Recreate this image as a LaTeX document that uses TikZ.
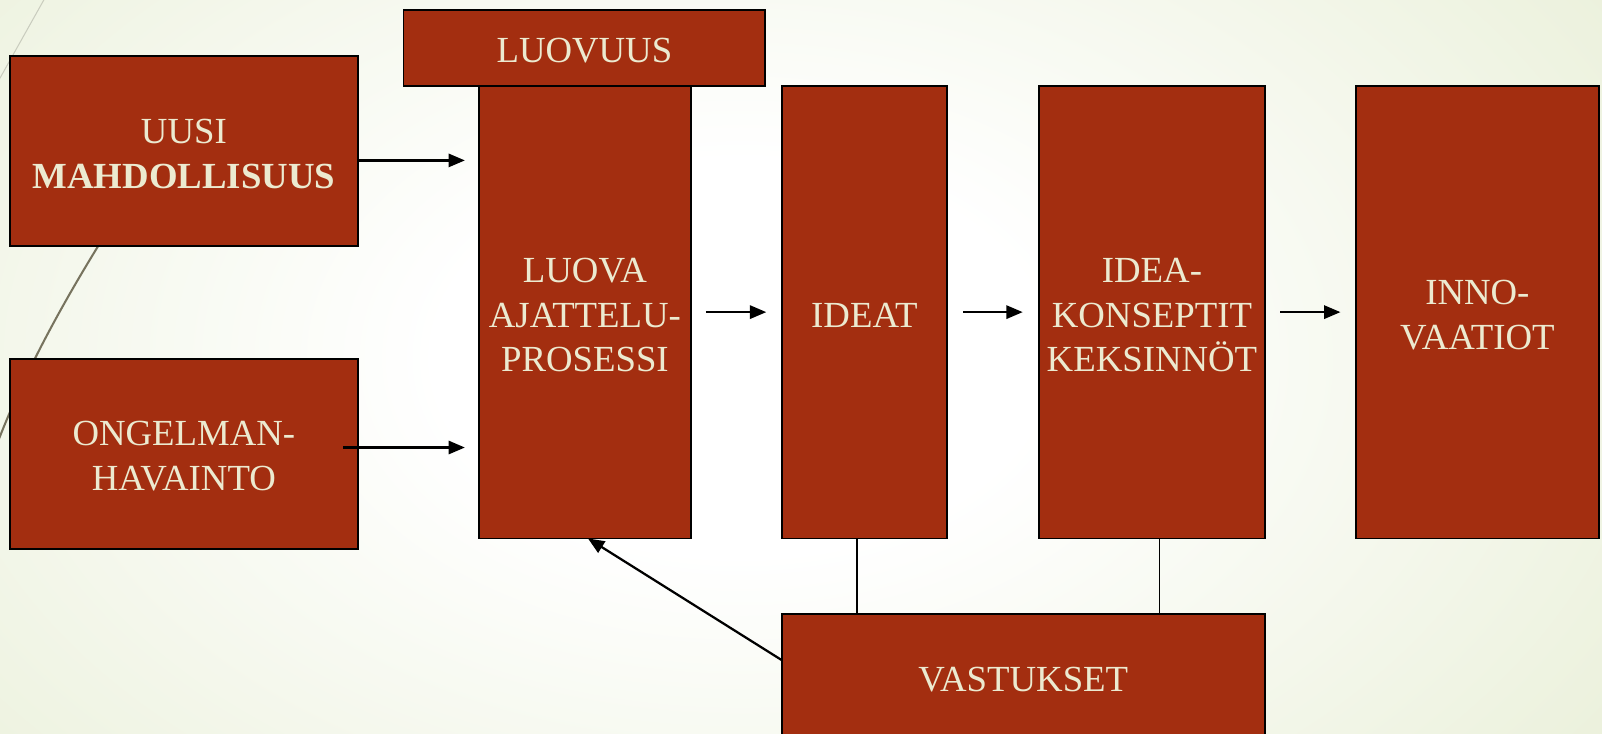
\documentclass[tikz,border=0pt]{standalone}
\usepackage{fontspec}
\setmainfont{Liberation Serif}
\usetikzlibrary{arrows.meta}
\definecolor{boxred}{HTML}{A32E10}
\definecolor{cream}{HTML}{ECEAD0}
\definecolor{bggreen}{HTML}{DFE8C6}
\definecolor{curvecol}{HTML}{77735E}
\definecolor{faintline}{HTML}{C9CCBE}
\pgfdeclareradialshading{bgshade}{\pgfpoint{0bp}{0bp}}{color(0bp)=(white); color(8bp)=(white); color(40bp)=(bggreen); color(50bp)=(bggreen)}
\newcommand\tstrut{\rule{0pt}{29.5pt}}
\begin{document}
\begin{tikzpicture}[x=1pt,y=-1pt,
  box/.style={draw=black, line width=1.8pt, fill=boxred, text=cream, align=center,
    anchor=north west, inner sep=0pt, outer sep=0pt, font=\fontsize{36}{44}\selectfont},
  arr/.style={line width=2.2pt, -{Triangle[length=16pt,width=13pt]}},
  link/.style={line width=1.6pt}]
\useasboundingbox (0,0) rectangle (1568,718);
\begin{scope}
\clip (0,0) rectangle (1568,718);
\fill[bggreen] (0,0) rectangle (1568,718);
\shade[shading=bgshade] (-200,-250) rectangle (1650,950);
\draw[faintline, line width=1pt] (44,-2) -- (-2,80);
\draw[curvecol, line width=2pt] (125,195) .. controls (70,280) and (25,360) .. (-5,440);
\end{scope}

\node[box, minimum width=340, minimum height=186] (uusi) at (10,55) {\tstrut UUSI\\\textbf{MAHDOLLISUUS}};
\node[box, minimum width=340, minimum height=186] (ong) at (10,351) {\tstrut ONGELMAN-\\HAVAINTO};
\node[box, minimum width=207, minimum height=443] (luova) at (469,84) {\tstrut LUOVA\\AJATTELU-\\PROSESSI};
\node[box, minimum width=354, minimum height=74] (luovuus) at (395,10) {\tstrut LUOVUUS};
\node[box, minimum width=162, minimum height=443] (ideat) at (765,84) {\tstrut IDEAT};
\node[box, minimum width=221, minimum height=443] (idea) at (1017,84) {\tstrut IDEA-\\KONSEPTIT\\KEKSINNÖT};
\node[box, minimum width=238, minimum height=443] (inno) at (1327,84) {\tstrut INNO-\\VAATIOT};
\node[box, minimum width=473, minimum height=122] (vast) at (765,601) {\tstrut VASTUKSET};

\draw[arr] ([yshift=-9pt]uusi.east) -- ([xshift=-14pt,yshift=-9pt]uusi.east -| luova.west);
\draw[arr] ([xshift=-14pt,yshift=6pt]ong.east) -- ([xshift=-14pt,yshift=6pt]ong.east -| luova.west);
\draw[arr, shorten <=15pt, shorten >=15pt] (luova.east) -- (ideat.west);
\draw[arr, shorten <=16pt, shorten >=16pt] (ideat.east) -- (idea.west);
\draw[arr, shorten <=15pt, shorten >=15pt] (idea.east) -- (inno.west);
\draw[arr] ([yshift=-45pt]vast.north west) -- ([xshift=3pt]luova.south);
\draw[link] ([xshift=-7pt]ideat.south) -- ([xshift=-7pt]ideat.south |- vast.north);
\draw[link] ([xshift=7.5pt]idea.south) -- ([xshift=7.5pt]idea.south |- vast.north);
\end{tikzpicture}
\end{document}
